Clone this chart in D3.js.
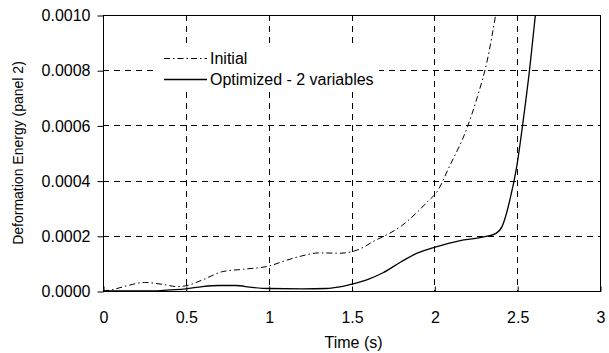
<!DOCTYPE html>
<html><head><meta charset="utf-8">
<script src="https://cdn.jsdelivr.net/npm/d3@7"></script>
<style>
html,body{margin:0;padding:0;background:#fff;}
text{font-family:"Liberation Sans",Arial,sans-serif;}
</style></head>
<body>
<svg id="chart" width="609" height="353"></svg>
<script>
const xTicks = [0, 0.5, 1, 1.5, 2, 2.5, 3];
const yTicks = [0, 0.0002, 0.0004, 0.0006, 0.0008, 0.0010];
const seriesNames = ["Initial", "Optimized - 2 variables"];

const initialT = [0, 0.05, 0.15, 0.25, 0.35, 0.45, 0.5, 0.6, 0.72, 0.85, 1.0, 1.1, 1.2, 1.3, 1.43, 1.5, 1.57, 1.63, 1.73, 1.8, 1.89, 1.97, 2.01, 2.09, 2.2, 2.26, 2.32, 2.37];
const initialV = [0, 0.000004, 0.00002, 0.000031, 0.000025, 0.000016, 0.000019, 0.00004, 0.00007, 0.000079, 0.00009, 0.00011, 0.000127, 0.000138, 0.000137, 0.000142, 0.000158, 0.000179, 0.000209, 0.000235, 0.000282, 0.00033, 0.000354, 0.00045, 0.000595, 0.000704, 0.000837, 0.001];

const optT = [0, 0.3, 0.4, 0.5, 0.6, 0.7, 0.8, 0.9, 1.0, 1.2, 1.35, 1.42, 1.51, 1.6, 1.69, 1.8, 1.9, 2.01, 2.15, 2.29, 2.37, 2.41, 2.456, 2.497, 2.537, 2.577, 2.61];
const optV = [0, 0, 0.000004, 0.000008, 0.000016, 0.00002, 0.00002, 0.000013, 0.000009, 0.000008, 0.000009, 0.000014, 0.000026, 0.000042, 0.000066, 0.000106, 0.000138, 0.00016, 0.000182, 0.000195, 0.000208, 0.000235, 0.00033, 0.00045, 0.00062, 0.000813, 0.001];

const L = 103, R = 600, T = 15, B = 291;
const FS = 16;
const svg = d3.select("#chart");
const x = d3.scaleLinear().domain([0, 3]).range([L, R]);
const y = d3.scaleLinear().domain([0, 0.001]).range([B, T]);

// grid
svg.append("g").selectAll("line").data(yTicks.slice(1, -1)).join("line")
  .attr("x1", L).attr("x2", R)
  .attr("y1", d => Math.round(y(d)) + 0.5).attr("y2", d => Math.round(y(d)) + 0.5)
  .attr("stroke", "#000").attr("stroke-width", 1).attr("stroke-dasharray", "6,5");
svg.append("g").selectAll("line").data(xTicks.slice(1, -1)).join("line")
  .attr("y1", T).attr("y2", B)
  .attr("x1", d => Math.round(x(d)) + 0.5).attr("x2", d => Math.round(x(d)) + 0.5)
  .attr("stroke", "#000").attr("stroke-width", 1).attr("stroke-dasharray", "6,5");

// frame
svg.append("rect").attr("x", L + 0.5).attr("y", T + 0.5).attr("width", R - L).attr("height", B - T)
  .attr("fill", "none").attr("stroke", "#000").attr("stroke-width", 1);

// axes
const yAxis = d3.axisLeft(y).tickValues(yTicks).tickFormat(d3.format(".4f")).tickSize(6).tickPadding(7);
const gy = svg.append("g").attr("transform", `translate(${L + 0.5},0.5)`).call(yAxis);
gy.select(".domain").remove();
gy.selectAll("text").attr("font-size", FS).attr("fill", "#000").attr("font-family", "Liberation Sans, Arial, sans-serif");

const xAxis = d3.axisBottom(x).tickValues(xTicks).tickFormat(d => String(d)).tickSize(-5).tickPadding(20);
const gx = svg.append("g").attr("transform", `translate(0.5,${B + 0.5})`).call(xAxis);
gx.select(".domain").remove();
gx.selectAll("text").attr("font-size", FS).attr("fill", "#000").attr("font-family", "Liberation Sans, Arial, sans-serif");

// clip
svg.append("clipPath").attr("id", "clip").append("rect")
  .attr("x", L).attr("y", T).attr("width", R - L).attr("height", B - T + 1);

const line = d3.line().x(d => x(d[0])).y(d => y(d[1])).curve(d3.curveMonotoneX);
const gLines = svg.append("g").attr("clip-path", "url(#clip)");
gLines.append("path").datum(d3.zip(initialT, initialV)).attr("d", line)
  .attr("fill", "none").attr("stroke", "#000").attr("stroke-width", 1).attr("stroke-dasharray", "6,3,1.5,3");
gLines.append("path").datum(d3.zip(optT, optV)).attr("d", line)
  .attr("fill", "none").attr("stroke", "#000").attr("stroke-width", 1.3);

// legend
svg.append("rect").attr("x", 157).attr("y", 48).attr("width", 222).attr("height", 43).attr("fill", "#fff");
const leg = [
  {name: seriesNames[0], y: 58, dash: "6,3,1.5,3", w: 1},
  {name: seriesNames[1], y: 79, dash: null, w: 1.3}
];
leg.forEach(d => {
  svg.append("line").attr("x1", 164).attr("x2", 207).attr("y1", d.y + 0.5).attr("y2", d.y + 0.5)
    .attr("stroke", "#000").attr("stroke-width", d.w).attr("stroke-dasharray", d.dash);
  svg.append("text").attr("x", 210).attr("y", d.y).attr("dy", "0.35em")
    .attr("font-size", FS).text(d.name);
});

// axis titles
svg.append("text").attr("x", (L + R) / 2 + 2).attr("y", 342).attr("dy", "0.35em")
  .attr("text-anchor", "middle").attr("font-size", FS).text("Time (s)");
svg.append("text").attr("transform", `translate(18,${(T + B) / 2}) rotate(-90)`).attr("dy", "0.35em")
  .attr("text-anchor", "middle").attr("font-size", 14).text("Deformation Energy (panel 2)");
</script>
</body></html>
